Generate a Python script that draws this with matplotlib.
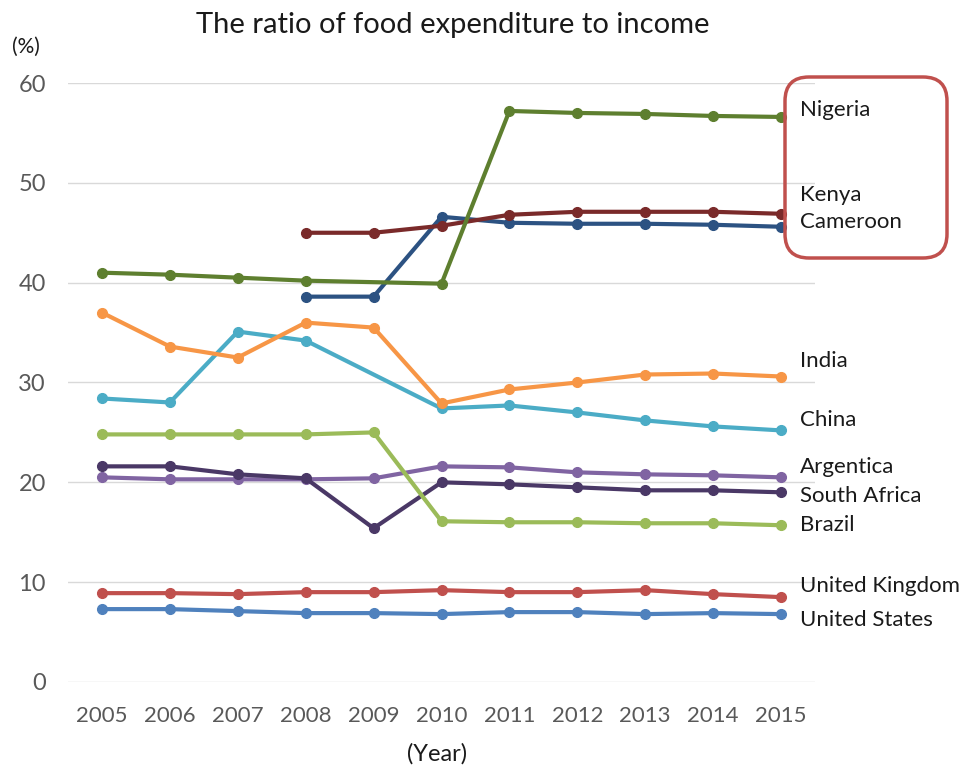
import matplotlib.pyplot as plt
from matplotlib.patches import FancyBboxPatch
from matplotlib.transforms import IdentityTransform

years = [2005, 2006, 2007, 2008, 2009, 2010, 2011, 2012, 2013, 2014, 2015]

# None = no value for that year (line connects across it)
nigeria = [41.0, 40.8, 40.5, 40.2, None, 39.9, 57.2, 57.0, 56.9, 56.7, 56.6]
kenya = [None, None, None, 45.0, 45.0, 45.7, 46.8, 47.1, 47.1, 47.1, 46.9]
cameroon = [None, None, None, 38.6, 38.6, 46.6, 46.0, 45.9, 45.9, 45.8, 45.6]
india = [37.0, 33.6, 32.5, 36.0, 35.5, 27.9, 29.3, 30.0, 30.8, 30.9, 30.6]
china = [28.4, 28.0, 35.1, 34.2, None, 27.4, 27.7, 27.0, 26.2, 25.6, 25.2]
brazil = [24.8, 24.8, 24.8, 24.8, 25.0, 16.1, 16.0, 16.0, 15.9, 15.9, 15.7]
south_africa = [21.6, 21.6, 20.8, 20.4, 15.4, 20.0, 19.8, 19.5, 19.2, 19.2, 19.0]
argentina = [20.5, 20.3, 20.3, 20.3, 20.4, 21.6, 21.5, 21.0, 20.8, 20.7, 20.5]
uk = [8.9, 8.9, 8.8, 9.0, 9.0, 9.2, 9.0, 9.0, 9.2, 8.8, 8.5]
us = [7.3, 7.3, 7.1, 6.9, 6.9, 6.8, 7.0, 7.0, 6.8, 6.9, 6.8]

series = [
    (argentina, '#8064A2'),
    (south_africa, '#4A3866'),
    (brazil, '#9BBB59'),
    (china, '#4BACC6'),
    (india, '#F79646'),
    (uk, '#C0504D'),
    (us, '#4F81BD'),
    (cameroon, '#2C5282'),
    (kenya, '#7A2A2A'),
    (nigeria, '#5E7F2F'),
]

labels = ['Nigeria', 'Kenya', 'Cameroon', 'India', 'China', 'Argentica',
          'South Africa', 'Brazil', 'United Kingdom', 'United States']
label_y = [57.3, 48.8, 46.1, 32.2, 26.2, 21.5, 18.6, 15.7, 9.6, 6.2]

fig = plt.figure(figsize=(9.66, 7.70), dpi=100)
ax = fig.add_axes([0.0704, 0.1143, 0.7733, 0.7779])

for vals, color in series:
    xs = [y for y, v in zip(years, vals) if v is not None]
    vs = [v for v in vals if v is not None]
    ax.plot(xs, vs, color=color, lw=3, marker='o', ms=7, solid_capstyle='round', zorder=3)

ax.set_xlim(2004.5, 2015.5)
ax.set_ylim(0, 60)
ax.set_yticks(range(0, 61, 10))
ax.set_xticks(years)
ax.grid(axis='y', color='#D9D9D9', lw=1)
ax.set_axisbelow(True)
for s in ax.spines.values():
    s.set_visible(False)
ax.tick_params(length=0, labelsize=16, labelcolor='#595959')
ax.tick_params(axis='x', pad=17)
ax.tick_params(axis='y', pad=16, labelsize=17)
for t in ax.get_xticklabels() + ax.get_yticklabels():
    t.set_family('Lato')

for lab, ly in zip(labels, label_y):
    ax.text(2015.28, ly, lab, fontsize=16, family='Lato', color='#1a1a1a',
            va='center', ha='left', clip_on=False)

# rounded box around the African labels, in pixel coords
box = FancyBboxPatch((785, 770 - 258), 162, 181, boxstyle='round,pad=0,rounding_size=24',
                     fill=False, edgecolor='#C0504D', lw=2.5)
box.set_transform(IdentityTransform())
fig.patches.append(box)

fig.text(0.469, 0.967, 'The ratio of food expenditure to income', fontsize=21,
         family='Lato', ha='center', va='center', color='#1a1a1a')
fig.text(0.027, 0.939, '(%)', fontsize=15, family='Lato', ha='center', va='center', color='#1a1a1a')
fig.text(0.452, 0.021, '(Year)', fontsize=17, family='Lato', ha='center', va='center', color='#1a1a1a')

fig.savefig('out.png', dpi=100)
